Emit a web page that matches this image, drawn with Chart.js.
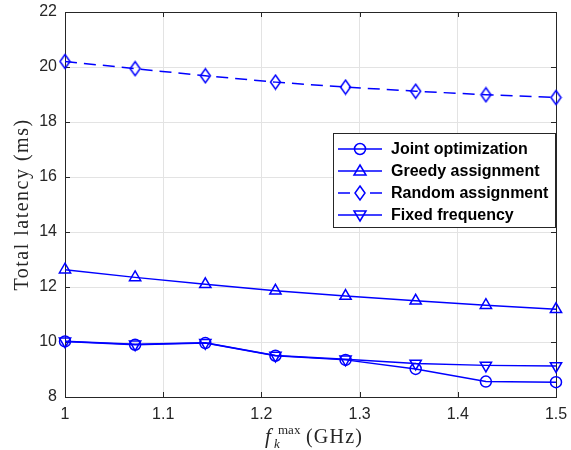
<!DOCTYPE html>
<html>
<head>
<meta charset="utf-8">
<script src="https://cdn.jsdelivr.net/npm/chart.js@4.4.1/dist/chart.umd.min.js"></script>
<style>
html,body{margin:0;padding:0;background:#fff;}
#wrap{width:571px;height:450px;position:relative;}
</style>
</head>
<body>
<div id="wrap"><canvas id="c" width="571" height="450"></canvas></div>
<script>
// ---- data ----
const fmax = [1, 1.0714, 1.1429, 1.2143, 1.2857, 1.3571, 1.4286, 1.5];
const jointOptimization = [10.02, 9.90, 9.96, 9.50, 9.35, 9.02, 8.56, 8.54];
const greedyAssignment  = [12.63, 12.35, 12.10, 11.86, 11.67, 11.50, 11.34, 11.19];
const randomAssignment  = [20.20, 19.94, 19.68, 19.45, 19.27, 19.12, 18.99, 18.89];
const fixedFrequency    = [10.03, 9.92, 9.97, 9.51, 9.37, 9.22, 9.15, 9.13];
const seriesLabels = ['Joint optimization', 'Greedy assignment', 'Random assignment', 'Fixed frequency'];
const xTicks = [1, 1.1, 1.2, 1.3, 1.4, 1.5];
const yTicks = [8, 10, 12, 14, 16, 18, 20, 22];

const BLUE = '#0000ff';
const AX = '#262626';

function diamondCanvas(){
  const c = document.createElement('canvas');
  c.width = 13; c.height = 17;
  const g = c.getContext('2d');
  g.strokeStyle = BLUE; g.lineWidth = 1.5;
  g.beginPath();
  g.moveTo(6.5, 1.5); g.lineTo(11.5, 8.5); g.lineTo(6.5, 15.5); g.lineTo(1.5, 8.5); g.closePath();
  g.stroke();
  return c;
}
const diamond = diamondCanvas();

function pts(ys){ return fmax.map((x,i)=>({x:x, y:ys[i]})); }

const styles = [
  {pointStyle:'circle', radius:5.5, rotation:0, dash:[]},
  {pointStyle:'triangle', radius:6.5, rotation:0, dash:[]},
  {pointStyle:diamond, radius:6, rotation:0, dash:[12,7]},
  {pointStyle:'triangle', radius:6.5, rotation:180, dash:[]}
];
const seriesData = [jointOptimization, greedyAssignment, randomAssignment, fixedFrequency];

const datasets = seriesData.map((d,i)=>({
  label: seriesLabels[i],
  data: pts(d),
  borderColor: BLUE,
  backgroundColor: 'rgba(0,0,0,0)',
  borderWidth: 1.5,
  borderDash: styles[i].dash,
  pointStyle: styles[i].pointStyle,
  pointRadius: styles[i].radius,
  pointRotation: styles[i].rotation,
  pointBorderColor: BLUE,
  pointBorderWidth: 1.5,
  pointBackgroundColor: 'rgba(0,0,0,0)',
  tension: 0,
  clip: false
}));

const SERIF = '"Liberation Serif", "DejaVu Serif", serif';

const framePlugin = {
  id: 'frame',
  beforeDatasetsDraw(chart){
    const {ctx, chartArea:a, scales} = chart;
    ctx.save();
    ctx.strokeStyle = AX; ctx.lineWidth = 1;
    ctx.beginPath();
    xTicks.forEach(v=>{
      const x = Math.round(scales.x.getPixelForValue(v)) + 0.5;
      ctx.moveTo(x, a.bottom); ctx.lineTo(x, a.bottom - 5);
      ctx.moveTo(x, a.top); ctx.lineTo(x, a.top + 5);
    });
    yTicks.forEach(v=>{
      const y = Math.round(scales.y.getPixelForValue(v)) + 0.5;
      ctx.moveTo(a.left, y); ctx.lineTo(a.left + 5, y);
      ctx.moveTo(a.right, y); ctx.lineTo(a.right - 5, y);
    });
    ctx.stroke();
    ctx.strokeRect(Math.round(a.left)+0.5, Math.round(a.top)+0.5, Math.round(a.right-a.left), Math.round(a.bottom-a.top));
    ctx.restore();
  },
  afterDraw(chart){
    const {ctx, chartArea:a} = chart;
    // y title
    ctx.save();
    ctx.fillStyle = AX;
    ctx.translate(28, (a.top + a.bottom)/2);
    ctx.rotate(-Math.PI/2);
    ctx.font = '20px ' + SERIF;
    if ('letterSpacing' in ctx) ctx.letterSpacing = '1.5px';
    ctx.textAlign = 'center'; ctx.textBaseline = 'alphabetic';
    ctx.fillText('Total latency (ms)', 0, 0);
    ctx.restore();

    // x title: f_k^max (GHz)
    ctx.save();
    ctx.fillStyle = AX;
    ctx.textBaseline = 'alphabetic';
    ctx.textAlign = 'left';
    const base = 443;
    if ('letterSpacing' in ctx) ctx.letterSpacing = '0px';
    ctx.font = 'italic 21px ' + SERIF; ctx.fillText('f', 265, base);
    ctx.font = 'italic 13px ' + SERIF; ctx.fillText('k', 274, base + 5);
    ctx.font = '13px ' + SERIF; ctx.fillText('max', 278, base - 9);
    if ('letterSpacing' in ctx) ctx.letterSpacing = '1.2px';
    ctx.font = '20px ' + SERIF; ctx.fillText('(GHz)', 306, base);
    ctx.restore();

    // legend
    ctx.save();
    const L = 333.5, T = 133.5, R = 555.5, B = 227.5;
    ctx.fillStyle = '#fff';
    ctx.fillRect(L, T, R-L, B-T);
    ctx.strokeStyle = AX; ctx.lineWidth = 1;
    ctx.strokeRect(L, T, R-L, B-T);
    chart.data.datasets.forEach((ds, i)=>{
      const y = 149 + i*22;
      ctx.strokeStyle = BLUE; ctx.lineWidth = 1.5;
      ctx.beginPath();
      if (i === 2) { ctx.moveTo(338, y); ctx.lineTo(350, y); ctx.moveTo(370, y); ctx.lineTo(382, y); }
      else { ctx.moveTo(338, y); ctx.lineTo(382, y); }
      ctx.stroke();
      const mx = 360;
      ctx.beginPath();
      if (i === 0) { ctx.arc(mx, y, 5.5, 0, Math.PI*2); }
      else if (i === 1) { ctx.moveTo(mx, y-6); ctx.lineTo(mx+6, y+4); ctx.lineTo(mx-6, y+4); ctx.closePath(); }
      else if (i === 2) { ctx.moveTo(mx, y-7); ctx.lineTo(mx+5, y); ctx.lineTo(mx, y+7); ctx.lineTo(mx-5, y); ctx.closePath(); }
      else { ctx.moveTo(mx, y+6); ctx.lineTo(mx+6, y-4); ctx.lineTo(mx-6, y-4); ctx.closePath(); }
      ctx.stroke();
      ctx.fillStyle = '#000';
      ctx.font = 'bold 16px "Liberation Sans", Arial, sans-serif';
      ctx.textBaseline = 'middle'; ctx.textAlign = 'left';
      ctx.fillText(ds.label, 391, y + 1);
    });
    ctx.restore();
  }
};

new Chart(document.getElementById('c'), {
  type: 'line',
  data: { datasets },
  options: {
    responsive: false,
    animation: false,
    devicePixelRatio: 1,
    layout: { padding: { top: 12, right: 15, left: 0, bottom: 0 } },
    plugins: { legend: { display: false }, tooltip: { enabled: false } },
    scales: {
      x: {
        type: 'linear', min: 1, max: 1.5,
        afterFit(s){ s.height = 53; s.paddingLeft = 0; s.paddingRight = 0; },
        afterBuildTicks(s){ s.ticks = xTicks.map(v=>({value:v})); },
        border: { display: false },
        grid: { color: '#e3e3e3', lineWidth: 1, drawTicks: false },
        ticks: {
          color: AX, padding: 8,
          font: { family: '"Liberation Sans", Arial, sans-serif', size: 16 },
          callback: v => String(v)
        }
      },
      y: {
        type: 'linear', min: 8, max: 22,
        afterFit(s){ s.width = 65; s.paddingTop = 0; s.paddingBottom = 0; },
        afterBuildTicks(s){ s.ticks = yTicks.map(v=>({value:v})); },
        border: { display: false },
        grid: { color: '#e3e3e3', lineWidth: 1, drawTicks: false },
        ticks: {
          color: AX, padding: 8,
          font: { family: '"Liberation Sans", Arial, sans-serif', size: 16 },
          callback: v => String(v)
        }
      }
    }
  },
  plugins: [framePlugin]
});
</script>
</body>
</html>
